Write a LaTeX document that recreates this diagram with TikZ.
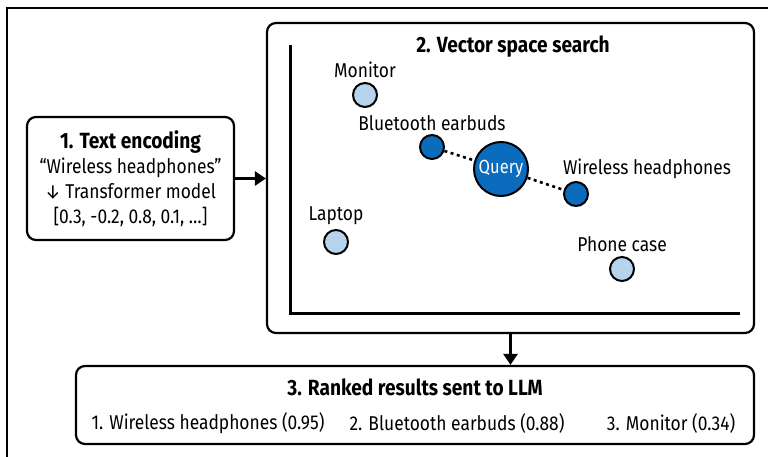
\documentclass[tikz,border=0pt]{standalone}
\usepackage{fontspec}
\setmainfont{Fira Sans}[FakeStretch=0.87]
\usetikzlibrary{arrows.meta}
\definecolor{nearblue}{HTML}{0B6BBD}
\definecolor{farblue}{HTML}{B7D4EC}
\tikzset{
  stage/.style={draw, line width=2.2pt, rounded corners=9pt, inner sep=0pt},
  heading/.style={font=\fontsize{22}{26}\selectfont\bfseries},
  body/.style={font=\fontsize{20}{25}\selectfont},
  point/.style={circle, draw, line width=2pt, minimum size=24pt, inner sep=0pt},
  nearpt/.style={point, fill=nearblue},
  farpt/.style={point, fill=farblue},
  flow/.style={line width=3pt, -{Triangle[length=11pt,width=14pt]}},
  link/.style={line width=2.6pt, dash pattern=on 3pt off 3.5pt}
}
\begin{document}
\begin{tikzpicture}[x=1pt,y=-1pt]
\useasboundingbox (0,0) rectangle (768,457);
\draw[line width=1.5pt] (7,457) -- (7,8) -- (768,8);
\node[stage, body, align=center, minimum width=207pt, minimum height=123pt] (enc) at (130.5,178.5)
  {{\fontsize{22}{26}\selectfont\bfseries 1. Text encoding}\\“Wireless headphones”\\↓ Transformer model\\{[}0.3, -0.2, 0.8, 0.1, …{]}};
\node[stage, minimum width=487pt, minimum height=310pt] (search) at (510.5,178) {};
\node[heading] (searchtitle) at (513,47) {2. Vector space search};
\draw[line width=3pt] (290,45) -- (290,313) -- (740,313);
\node[farpt] (monitor) at (365,95) {};
\node[body] (monitorlbl) at (365,70) {Monitor};
\node[nearpt] (bluetooth) at (432,147) {};
\node[body] (bluetoothlbl) at (432,123) {Bluetooth earbuds};
\node[nearpt] (wireless) at (576,194) {};
\node[body] (wirelesslbl) at (647,169) {Wireless headphones};
\node[farpt] (laptop) at (336,242) {};
\node[body] (laptoplbl) at (336,216) {Laptop};
\node[farpt] (phone) at (622,269) {};
\node[body] (phonelbl) at (622,244) {Phone case};
\node[point, fill=nearblue, minimum size=54pt, text=white, font=\fontsize{19}{22}\selectfont] (query) at (501,169) {Query};
\draw[link] (bluetooth) -- (query);
\draw[link] (query) -- (wireless);
\node[stage, minimum width=678pt, minimum height=78pt] (rank) at (415,405) {};
\node[heading] (ranktitle) at (415,387) {3. Ranked results sent to LLM};
\node[body] (first) at (208,423) {1. Wireless headphones (0.95)};
\node[body] (second) at (457,423) {2. Bluetooth earbuds (0.88)};
\node[body] (third) at (671,423) {3. Monitor (0.34)};
\draw[flow] (enc.east) -- (enc.east -| search.west);
\draw[flow] (search.south) -- (search.south |- rank.north);
\end{tikzpicture}
\end{document}
